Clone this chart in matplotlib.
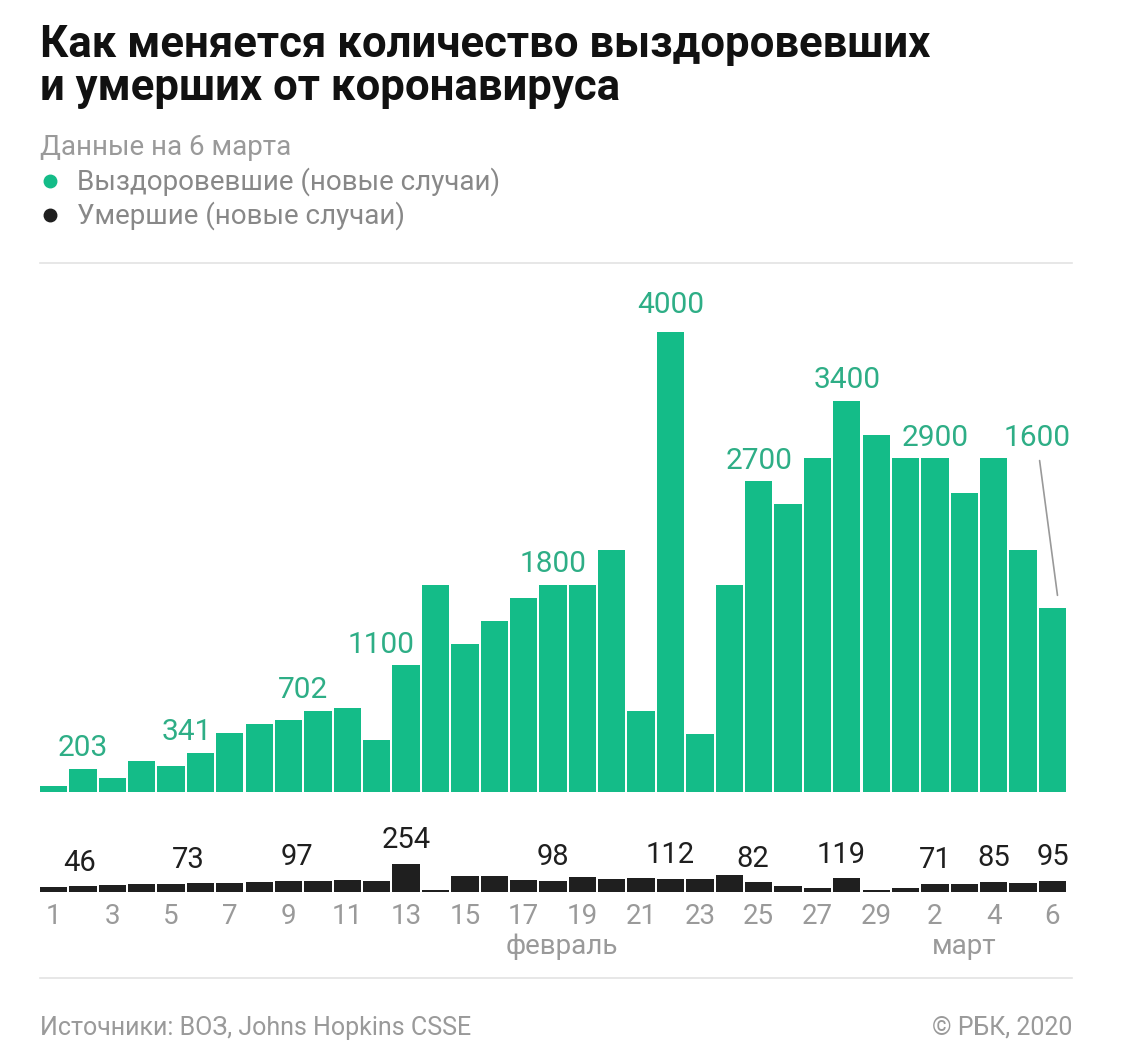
import matplotlib
matplotlib.use('Agg')
import matplotlib.pyplot as plt
from matplotlib.transforms import blended_transform_factory

plt.rcParams['font.family'] = ['Roboto', 'DejaVu Sans']

# days: 1..29 February, 1..6 March
days = list(range(1, 30)) + list(range(1, 7))

# new recovered cases per day
recovered = [50, 203, 118, 273, 229, 341, 516, 592, 624, 702, 732, 456, 1100, 1800, 1290,
             1490, 1690, 1800, 1800, 2100, 700, 4000, 500, 1800, 2700, 2500, 2900, 3400, 3100,
             2900, 2900, 2600, 2900, 2100, 1600]

# new deaths per day
deaths = [45, 46, 57, 64, 66, 73, 73, 89, 94, 97, 108, 97, 254, 13, 140, 142, 105, 98, 136,
          115, 118, 112, 109, 150, 82, 52, 35, 119, 10, 35, 71, 70, 85, 80, 95]

# which bars carry a value label
rec_labeled = [1, 5, 9, 12, 17, 21, 24, 27, 30, 34]
dth_labeled = [1, 5, 9, 12, 17, 21, 24, 27, 30, 32, 34]

# horizontal nudges of labels (in bar widths)
rec_dx = {5: -0.45, 9: -0.5, 12: -0.85, 34: -0.35}
dth_dx = {1: -0.1, 5: -0.4, 9: -0.7, 24: -0.2, 27: -0.2}

GREEN = '#14bc88'
GREEN_TXT = '#2eae86'
DARK = '#1f1f1f'
GREY = '#9a9a9a'

W, H = 1134, 1055
fig = plt.figure(figsize=(W / 100, H / 100), dpi=100)


def box(x0, y0, x1, y1):
    # pixel box (top-left origin) -> figure fraction
    return [x0 / W, 1 - y1 / H, (x1 - x0) / W, (y1 - y0) / H]


x = list(range(len(days)))
xlim = (-0.46, len(days) - 0.54)

# recovered bars
ax = fig.add_axes(box(40, 280, 1066, 792))
ax.bar(x, recovered, width=0.93, color=GREEN)
ax.set_xlim(*xlim)
ax.set_ylim(0, 4452)
ax.axis('off')

for i in rec_labeled:
    if i == 34:
        ax.annotate(str(recovered[i]), xy=(i + 0.17, recovered[i] + 110),
                    xytext=(-15, 103), textcoords='offset points',
                    ha='center', va='bottom', fontsize=21.5, color=GREEN_TXT,
                    arrowprops=dict(arrowstyle='-', color='#999999', lw=1.2,
                                    shrinkA=4, shrinkB=0))
        continue
    off = 9 if i == 21 else 5
    ax.annotate(str(recovered[i]), xy=(i + rec_dx.get(i, 0), recovered[i]),
                xytext=(0, off), textcoords='offset points',
                ha='center', va='bottom', fontsize=21.5, color=GREEN_TXT)

# deaths bars
ax2 = fig.add_axes(box(40, 830, 1066, 891.5))
ax2.bar(x, deaths, width=0.93, color=DARK)
ax2.set_xlim(*xlim)
ax2.set_ylim(0, 558)
for s in ax2.spines.values():
    s.set_visible(False)
ax2.set_yticks([])
ticks = [i for i in x if i % 2 == 0 and i < 29] + [30, 32, 34]
ax2.set_xticks(ticks)
ax2.set_xticklabels([str(days[i]) for i in ticks], fontsize=20, color=GREY)
ax2.tick_params(axis='x', length=0, pad=8)

for i in dth_labeled:
    ax2.annotate(str(deaths[i]), xy=(i + dth_dx.get(i, 0), deaths[i]),
                 xytext=(0, 7), textcoords='offset points',
                 ha='center', va='bottom', fontsize=21, color=DARK)

tr = blended_transform_factory(ax2.transData, fig.transFigure)
ax2.text(17.3, 1 - 946 / H, 'февраль', transform=tr, ha='center', va='center',
         fontsize=20, color=GREY)
ax2.text(31, 1 - 946 / H, 'март', transform=tr, ha='center', va='center',
         fontsize=20, color=GREY)

# title, subtitle, legend
fig.text(40 / W, 1 - 57 / H, 'Как меняется количество выздоровевших', fontsize=31.5,
         fontweight='bold', color='#111111', va='baseline')
fig.text(40 / W, 1 - 100 / H, 'и умерших от коронавируса', fontsize=31.5,
         fontweight='bold', color='#111111', va='baseline')
fig.text(40 / W, 1 - 155 / H, 'Данные на 6 марта', fontsize=20, color=GREY, va='baseline')
fig.text(77 / W, 1 - 190 / H, 'Выздоровевшие (новые случаи)', fontsize=20, color='#888888',
         va='baseline')
fig.text(77 / W, 1 - 224 / H, 'Умершие (новые случаи)', fontsize=20, color='#888888',
         va='baseline')
fig.lines.append(plt.Line2D([50 / W], [1 - 181 / H], marker='o', markersize=9,
                            color=GREEN, transform=fig.transFigure))
fig.lines.append(plt.Line2D([50 / W], [1 - 215 / H], marker='o', markersize=9,
                            color=DARK, transform=fig.transFigure))

# separators
for yy in (263, 978):
    fig.lines.append(plt.Line2D([40 / W, 1072 / W], [1 - yy / H] * 2, color='#e3e3e3',
                                lw=1.2, transform=fig.transFigure))

# footer
fig.text(40 / W, 1 - 1028 / H, 'Источники: ВОЗ, Johns Hopkins CSSE', fontsize=18,
         color=GREY, va='center')
fig.text(1072 / W, 1 - 1028 / H, '© РБК, 2020', fontsize=18, color=GREY,
         va='center', ha='right')

fig.savefig('out.png', dpi=100, facecolor='white')
